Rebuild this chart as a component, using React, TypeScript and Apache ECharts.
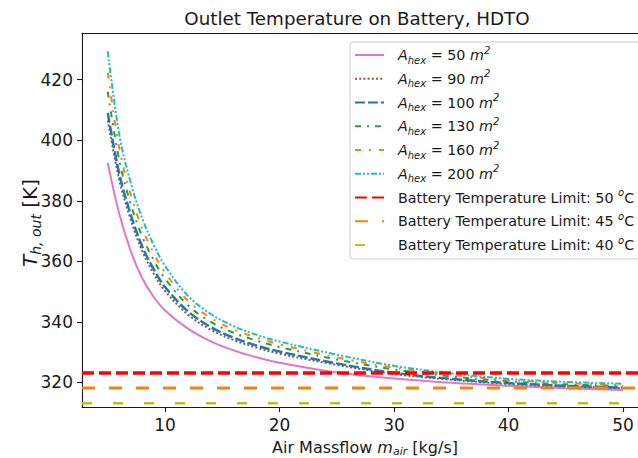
import React, { useEffect, useRef } from 'react';
import * as echarts from 'echarts';

// Air massflow [kg/s]
const massflow = [5, 6, 7, 8, 9, 10, 12, 14, 16, 18, 20, 25, 30, 35, 40, 45, 50];
// Heat exchanger areas [m^2]
const areas = [50, 90, 100, 130, 160, 200];
// Outlet temperature [K] per area
const T_A50 = [392.5, 375.8, 363.5, 354.5, 348.3, 343.8, 337.8, 333.6, 330.6, 328.3, 326.5, 323.3, 321.3, 319.9, 318.9, 318.1, 317.5];
const T_A90 = [406.5, 387, 373.8, 363.5, 356, 350.2, 342.4, 337.4, 334, 331.5, 329.5, 325.8, 322.8, 320.9, 319.5, 318.7, 318.1];
const T_A100 = [409, 389, 375.5, 365, 357.5, 351.5, 343.5, 338.3, 334.8, 332.2, 330.2, 326.3, 323.2, 321.2, 319.8, 318.9, 318.3];
const T_A130 = [416, 393.5, 379, 368.3, 360.5, 354.3, 345.5, 340, 336.4, 333.8, 331.7, 327.6, 324.3, 322, 320.4, 319.4, 318.8];
const T_A160 = [422.3, 397.5, 382, 371, 362.8, 356.3, 347, 341.3, 337.5, 334.8, 332.6, 328.3, 324.9, 322.5, 320.8, 319.8, 319.2];
const T_A200 = [429.3, 402, 386, 374.3, 365.5, 358.5, 348.6, 342.6, 338.6, 335.7, 333.5, 329.2, 325.5, 323, 321.2, 320.2, 319.6];
const curves = [T_A50, T_A90, T_A100, T_A130, T_A160, T_A200];
// Battery temperature limits [°C]
const limitsC = [50, 45, 40];
// Tick labels
const xTicks = [10, 20, 30, 40, 50];
const yTicks = [320, 340, 360, 380, 400, 420];

const X_MIN = 2.75;
const X_MAX = 51.31;
const Y_MIN = 311.9;
const Y_MAX = 435.4;

const curveColors = ['#e377c2', '#8c564b', '#1f77b4', '#2ca02c', '#ff7f0e', '#17becf'];
const curveWidths = [2, 2, 2.5, 2, 2, 2];
const curveDash: any[] = ['solid', [2, 2.2], [10, 3], [6, 6, 2, 6], [6, 8, 2, 8], [6, 2, 2, 2, 2, 2]];
const limitColors = ['#ff0000', '#ff7f0e', '#bcbd22'];
const limitWidths = [3.5, 3, 2.5];
const limitDash: any[] = [[12, 5], [13, 14], [10, 21]];

const FONT = 'DejaVu Sans';
const INK = '#1a1a1a';

export default function App() {
  const ref = useRef<HTMLDivElement>(null);
  useEffect(() => {
    const chart = echarts.init(ref.current!, null, { renderer: 'svg' });

    const curveSeries = areas.map((a, i) => ({
      name: `A${a}`,
      type: 'line',
      data: massflow.map((x, j) => [x, curves[i][j]]),
      symbol: 'none',
      smooth: 0.35,
      lineStyle: { color: curveColors[i], width: curveWidths[i], type: curveDash[i] },
      itemStyle: { color: curveColors[i] },
    }));
    const limitSeries = limitsC.map((c, i) => ({
      name: `L${c}`,
      type: 'line',
      data: [[X_MIN, c + 273.15], [X_MAX, c + 273.15]],
      symbol: 'none',
      lineStyle: { color: limitColors[i], width: limitWidths[i], type: limitDash[i] },
      itemStyle: { color: limitColors[i] },
    }));

    const legendFormatter = (name: string) => {
      if (name[0] === 'A') {
        return `{i|A}{sub|hex} = ${name.slice(1)} {i|m}{sup|2}`;
      }
      return `Battery Temperature Limit: ${name.slice(1)} {sup|o}C`;
    };

    chart.setOption({
      animation: false,
      backgroundColor: '#ffffff',
      grid: { left: 82, right: 0, top: 33, bottom: 51, containLabel: false },
      xAxis: [
        {
          type: 'value',
          min: X_MIN,
          max: X_MAX,
          axisLine: { show: true, lineStyle: { color: INK, width: 1.1 } },
          axisTick: { show: true, inside: false, length: 5, lineStyle: { color: INK, width: 1.1 }, customValues: xTicks },
          axisLabel: { show: true, customValues: xTicks, margin: 9, color: INK, fontFamily: FONT, fontSize: 17 },
          splitLine: { show: false },
        },
        {
          type: 'value',
          position: 'top',
          min: X_MIN,
          max: X_MAX,
          axisLine: { show: true, onZero: false, lineStyle: { color: INK, width: 1.1 } },
          axisTick: { show: false },
          axisLabel: { show: false },
          splitLine: { show: false },
        },
      ],
      yAxis: {
        type: 'value',
        min: Y_MIN,
        max: Y_MAX,
        axisLine: { show: true, lineStyle: { color: INK, width: 1.1 } },
        axisTick: { show: true, inside: false, length: 5, lineStyle: { color: INK, width: 1.1 }, customValues: yTicks },
        axisLabel: { show: true, customValues: yTicks, margin: 9, color: INK, fontFamily: FONT, fontSize: 17 },
        splitLine: { show: false },
      },
      legend: {
        show: true,
        orient: 'vertical',
        left: 350,
        top: 42,
        padding: [3, 10, 4, 4],
        itemGap: 3.75,
        itemWidth: 29,
        itemHeight: 14,
        selectedMode: false,
        backgroundColor: 'rgba(255,255,255,0.85)',
        borderColor: '#cccccc',
        borderWidth: 1,
        borderRadius: 3,
        itemStyle: { opacity: 0 },
        data: [...areas.map((a) => `A${a}`), ...limitsC.map((c) => `L${c}`)],
        formatter: legendFormatter,
        textStyle: {
          fontFamily: FONT,
          fontSize: 14.3,
          color: INK,
          lineHeight: 20,
          padding: [0, 0, 0, 9],
          rich: {
            i: { fontFamily: FONT, fontSize: 14.3, fontStyle: 'italic', color: INK },
            sub: { fontFamily: FONT, fontSize: 10, fontStyle: 'italic', color: INK, verticalAlign: 'bottom' },
            sup: { fontFamily: FONT, fontSize: 10, fontStyle: 'italic', color: INK, verticalAlign: 'top' },
          },
        },
      },
      graphic: [
        {
          type: 'text',
          x: 357,
          y: 18,
          style: {
            text: 'Outlet Temperature on Battery, HDTO',
            fontFamily: FONT,
            fontSize: 18.3,
            fill: INK,
            textAlign: 'center',
            textVerticalAlign: 'middle',
          },
        },
        {
          type: 'text',
          x: 365,
          y: 447,
          style: {
            text: 'Air Massflow {i|m}{sub|air} [kg/s]',
            fontFamily: FONT,
            fontSize: 16,
            fill: INK,
            textAlign: 'center',
            textVerticalAlign: 'middle',
            lineHeight: 20,
            rich: {
              i: { fontFamily: FONT, fontSize: 16, fontStyle: 'italic', fill: INK },
              sub: { fontFamily: FONT, fontSize: 11, fontStyle: 'italic', fill: INK, verticalAlign: 'bottom' },
            },
          },
        },
        {
          type: 'text',
          x: 30,
          y: 223,
          rotation: Math.PI / 2,
          style: {
            text: '{i|T}{sub|h, out} [K]',
            fontFamily: FONT,
            fontSize: 20,
            fill: INK,
            textAlign: 'center',
            textVerticalAlign: 'middle',
            lineHeight: 26,
            rich: {
              i: { fontFamily: FONT, fontSize: 20, fontStyle: 'italic', fill: INK },
              sub: { fontFamily: FONT, fontSize: 14, fontStyle: 'italic', fill: INK, verticalAlign: 'bottom' },
            },
          },
        },
      ],
      series: [...curveSeries, ...limitSeries],
    });
    return () => chart.dispose();
  }, []);
  return <div ref={ref} style={{ position: 'fixed', left: 0, top: 0, width: 638, height: 458 }} />;
}
